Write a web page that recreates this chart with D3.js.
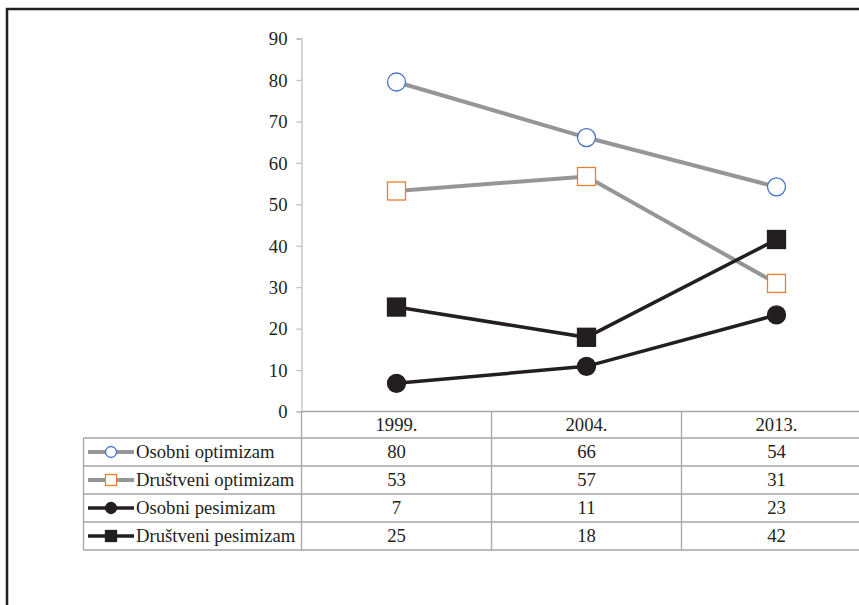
<!DOCTYPE html>
<html><head><meta charset="utf-8">
<script src="https://cdn.jsdelivr.net/npm/d3@7"></script>
<style>body{margin:0;background:#fff}svg{display:block}svg text{font-family:"Liberation Serif","Times New Roman",serif;}</style>
</head><body>
<script>
const categories = ["1999.", "2004.", "2013."];
const seriesNames = ["Osobni optimizam", "Društveni optimizam", "Osobni pesimizam", "Društveni pesimizam"];
const osobniOptimizam = [79.5, 66.1, 54.2];
const drustveniOptimizam = [53.2, 56.7, 30.9];
const osobniPesimizam = [6.8, 10.9, 23.3];
const drustveniPesimizam = [25.2, 17.9, 41.5];
const yTicks = [0, 10, 20, 30, 40, 50, 60, 70, 80, 90];

const W = 859, H = 605;
const svg = d3.select("body").append("svg").attr("width", W).attr("height", H);
const FS = 18.7;
const txt = "#231F20";

// frame
svg.append("path").attr("d", `M7,${H} V9 H${W}`).attr("fill", "none").attr("stroke", "#231F20").attr("stroke-width", 2.5);

const x0 = 301.5, colW = 190;
const x = d3.scaleBand().domain(categories).range([x0, x0 + colW * 3]).padding(0);
const y = d3.scaleLinear().domain([0, 90]).range([411.5, 38.5]);

// y axis
const ax = svg.append("g").attr("transform", `translate(${x0},0)`)
  .call(d3.axisLeft(y).tickValues(yTicks).tickSize(5).tickPadding(9));
ax.attr("font-family", null).attr("font-size", null);
ax.select(".domain").attr("stroke", "#BFBFBF").attr("stroke-width", 1.3);
ax.selectAll(".tick line").attr("stroke", "#BFBFBF").attr("stroke-width", 1.3);
ax.selectAll(".tick text").attr("font-size", FS).attr("fill", txt).attr("dy", "0.34em");

const series = [
  {name: seriesNames[0], values: osobniOptimizam, line: "#969696", lw: 4, shape: "circle", fill: "#fff", stroke: "#4472C4"},
  {name: seriesNames[1], values: drustveniOptimizam, line: "#969696", lw: 4, shape: "square", fill: "#fff", stroke: "#ED7D31"},
  {name: seriesNames[2], values: osobniPesimizam, line: "#231F20", lw: 3.5, shape: "circle", fill: "#231F20", stroke: "#231F20"},
  {name: seriesNames[3], values: drustveniPesimizam, line: "#231F20", lw: 3.5, shape: "square", fill: "#231F20", stroke: "#231F20"}
];

const cx = c => x(c) + x.bandwidth() / 2;
const line = d3.line().x((d, i) => cx(categories[i])).y(d => y(d));

function marker(g, s, px, py, size) {
  if (s.shape === "circle") {
    g.append("circle").attr("cx", px).attr("cy", py).attr("r", size / 2)
      .attr("fill", s.fill).attr("stroke", s.stroke).attr("stroke-width", 1.3);
  } else {
    g.append("rect").attr("x", px - size / 2).attr("y", py - size / 2).attr("width", size).attr("height", size)
      .attr("fill", s.fill).attr("stroke", s.stroke).attr("stroke-width", 1.3);
  }
}

const plot = svg.append("g");
series.forEach(s => {
  plot.append("path").datum(s.values).attr("d", line).attr("fill", "none")
    .attr("stroke", s.line).attr("stroke-width", s.lw);
});
series.forEach(s => {
  s.values.forEach((v, i) => marker(plot, s, cx(categories[i]), y(v), 18));
});

// data table
const grid = "#A6A6A6";
const rowTop = 411.5, headerH = 26.5, rowH = 28;
const tLeft = 83.5;
const tRight = x0 + colW * 3;
const tbl = svg.append("g");
const rowYs = d3.range(series.length + 1).map(i => rowTop + headerH + i * rowH);
tbl.append("line").attr("x1", x0).attr("x2", tRight).attr("y1", rowTop).attr("y2", rowTop).attr("stroke", grid).attr("stroke-width", 1.3);
rowYs.forEach(ry => tbl.append("line").attr("x1", tLeft).attr("x2", tRight).attr("y1", ry).attr("y2", ry).attr("stroke", grid).attr("stroke-width", 1.3));
tbl.append("line").attr("x1", tLeft).attr("x2", tLeft).attr("y1", rowYs[0]).attr("y2", rowYs[rowYs.length - 1]).attr("stroke", grid).attr("stroke-width", 1.3);
[0, 1, 2, 3].forEach(k => {
  const vx = x0 + k * colW;
  tbl.append("line").attr("x1", vx).attr("x2", vx).attr("y1", rowTop).attr("y2", rowYs[rowYs.length - 1]).attr("stroke", grid).attr("stroke-width", 1.3);
});
categories.forEach(c => {
  tbl.append("text").attr("x", cx(c)).attr("y", rowTop + headerH / 2 + 6).attr("text-anchor", "middle")
    .attr("font-size", FS).attr("fill", txt).text(c);
});
series.forEach((s, r) => {
  const midY = rowYs[r] + rowH / 2;
  tbl.append("line").attr("x1", 88).attr("x2", 134).attr("y1", midY).attr("y2", midY)
    .attr("stroke", s.line).attr("stroke-width", s.lw);
  marker(tbl, s, 111, midY, 11);
  tbl.append("text").attr("x", 136).attr("y", midY + 6).attr("font-size", FS)
    .attr("fill", txt).text(s.name);
  s.values.forEach((v, i) => {
    tbl.append("text").attr("x", cx(categories[i])).attr("y", midY + 6).attr("text-anchor", "middle")
      .attr("font-size", FS).attr("fill", txt).text(d3.format(".0f")(v));
  });
});
</script>
</body></html>
